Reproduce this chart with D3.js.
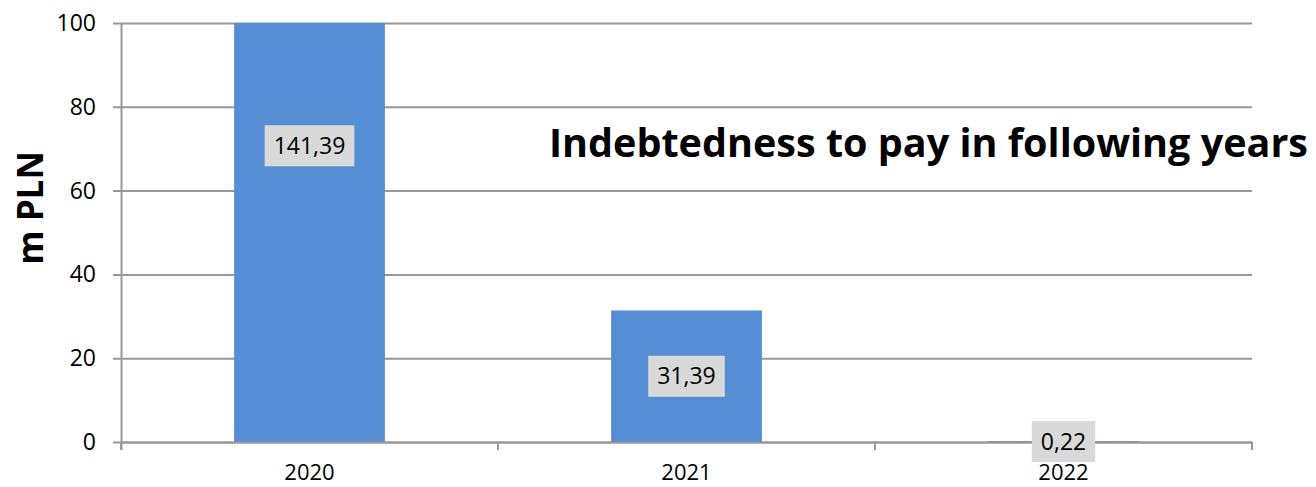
<!DOCTYPE html>
<html>
<head>
<meta charset="utf-8">
<script src="https://cdn.jsdelivr.net/npm/d3@7"></script>
<style>
  html, body { margin: 0; padding: 0; background: #fff; }
  svg { display: block; }
  text { font-family: "Open Sans", "Noto Sans", sans-serif; }
</style>
</head>
<body>
<div id="chart"></div>
<script>
// Indebtedness (m PLN) due in the following years
const years = ["2020", "2021", "2022"];
const amounts = [141.39, 31.39, 0.22];
const amountLabels = ["141,39", "31,39", "0,22"];
const yTicks = [0, 20, 40, 60, 80, 100];
const yMax = 100;
const titleText = "Indebtedness to pay in following years";
const yAxisTitle = "m PLN";

const W = 1316, H = 487;
const margin = { left: 121, right: 64, top: 23, bottom: 45 };
const plotW = W - margin.left - margin.right;
const plotH = H - margin.top - margin.bottom;

const svg = d3.select("#chart").append("svg")
  .attr("width", W).attr("height", H);

const x = d3.scaleBand().domain(years).range([0, plotW]).paddingInner(0.6).paddingOuter(0.3);
const y = d3.scaleLinear().domain([0, yMax]).range([plotH, 0]);

const g = svg.append("g").attr("transform", `translate(${margin.left},${margin.top})`);

const gridColor = "#989898";
const labelSize = 23;

// Horizontal gridlines with left tick stubs
g.append("g").selectAll("line").data(yTicks).join("line")
  .attr("x1", -8).attr("x2", plotW)
  .attr("y1", d => y(d) + 0.5).attr("y2", d => y(d) + 0.5)
  .attr("stroke", gridColor).attr("stroke-width", 2);

// Y tick labels
g.append("g").selectAll("text").data(yTicks).join("text")
  .attr("x", -25).attr("y", d => y(d))
  .attr("dy", "0.35em")
  .attr("text-anchor", "end")
  .attr("font-size", labelSize)
  .attr("fill", "#000")
  .text(d => d);

// Clip bars to the plot area (values above the axis maximum are cut off)
svg.append("defs").append("clipPath").attr("id", "plotClip")
  .append("rect").attr("x", 0).attr("y", 0).attr("width", plotW).attr("height", plotH);

g.append("g").attr("clip-path", "url(#plotClip)")
  .selectAll("rect").data(amounts).join("rect")
  .attr("x", (d, i) => x(years[i]))
  .attr("width", x.bandwidth())
  .attr("y", d => y(d))
  .attr("height", d => plotH - y(d))
  .attr("fill", "#558ED5");

// Y axis line
g.append("line")
  .attr("x1", 0.5).attr("x2", 0.5).attr("y1", 0).attr("y2", plotH + 8)
  .attr("stroke", gridColor).attr("stroke-width", 2);

// X axis baseline and category boundary ticks
g.append("line")
  .attr("x1", 0).attr("x2", plotW).attr("y1", plotH + 0.5).attr("y2", plotH + 0.5)
  .attr("stroke", gridColor).attr("stroke-width", 2);
const boundaries = d3.range(years.length + 1).map(i => i * plotW / years.length);
g.append("g").selectAll("line").data(boundaries).join("line")
  .attr("x1", d => d).attr("x2", d => d)
  .attr("y1", plotH).attr("y2", plotH + 8)
  .attr("stroke", gridColor).attr("stroke-width", 2);

// X tick labels
g.append("g").selectAll("text").data(years).join("text")
  .attr("x", d => x(d) + x.bandwidth() / 2)
  .attr("y", plotH + 38)
  .attr("text-anchor", "middle")
  .attr("font-size", 22)
  .attr("fill", "#000")
  .text(d => d);

// Data labels with grey boxes, centred on the bar's half-value
const lab = g.append("g").selectAll("g").data(amounts).join("g")
  .attr("transform", (d, i) => `translate(${x(years[i]) + x.bandwidth() / 2},${y(d / 2)})`);
lab.append("rect").attr("fill", "#D9D9D9");
lab.append("text")
  .attr("text-anchor", "middle")
  .attr("dy", "0.35em")
  .attr("font-size", labelSize)
  .attr("fill", "#000")
  .text((d, i) => amountLabels[i]);
lab.each(function () {
  const t = d3.select(this).select("text").node().getBBox();
  d3.select(this).select("rect")
    .attr("x", t.x - 9).attr("width", t.width + 18)
    .attr("y", -20.5).attr("height", 41);
});

// Y axis title
svg.append("text")
  .attr("transform", "translate(43,208) rotate(-90)")
  .attr("text-anchor", "middle")
  .attr("font-size", 35)
  .attr("font-weight", "bold")
  .attr("fill", "#000")
  .text(yAxisTitle);

// Chart title
svg.append("text")
  .attr("x", 549).attr("y", 157)
  .attr("font-size", 40)
  .attr("font-weight", "bold")
  .attr("fill", "#000")
  .attr("textLength", 759)
  .attr("lengthAdjust", "spacingAndGlyphs")
  .text(titleText);
</script>
</body>
</html>
